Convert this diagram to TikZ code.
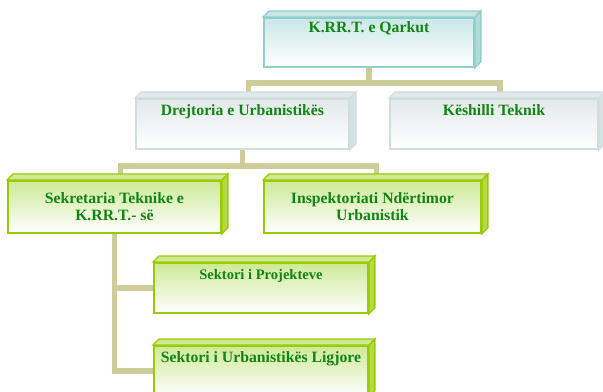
\documentclass[tikz,border=0pt]{standalone}
\usepackage{fontspec}
\setmainfont{Liberation Serif}
\usetikzlibrary{backgrounds}

\definecolor{linktan}{RGB}{206,204,154}
\definecolor{labelgreen}{RGB}{18,132,18}
\definecolor{tealline}{RGB}{146,206,206}
\definecolor{tealfill}{RGB}{202,231,231}
\definecolor{tealside}{RGB}{178,219,219}
\definecolor{grayline}{RGB}{208,222,222}
\definecolor{grayfill}{RGB}{226,233,234}
\definecolor{grayside}{RGB}{214,225,225}
\definecolor{greenline}{RGB}{153,204,0}
\definecolor{greenfill}{RGB}{206,233,152}
\definecolor{greenside}{RGB}{178,216,76}

\begin{document}
\begin{tikzpicture}[x=0.75pt, y=-0.75pt,
    size/.style 2 args={minimum width=#1*0.75pt, minimum height=#2*0.75pt},
    firstline/.style={text height=12.75pt, text depth=#1*0.75pt},
    orgbox/.style={rectangle, inner sep=0pt, anchor=north west, line width=1.4pt,
        font=\fontsize{11.8}{12.75}\selectfont\bfseries, text=labelgreen},
    tealbox/.style={orgbox, draw=tealline, top color=tealfill, bottom color=white},
    graybox/.style={orgbox, draw=grayline, top color=grayfill, bottom color=white},
    greenbox/.style={orgbox, draw=greenline, top color=greenfill, bottom color=white},
    link/.style={linktan, line width=4pt}]
    \useasboundingbox (0,0) rectangle (603,392);
    \clip (0,0) rectangle (603,392);

    % Boxes
    \node[tealbox, size={210}{49}, text height=11.25pt, text depth=25.5pt] (qark) at (263,17) {K.RR.T. e Qarkut};
    \node[graybox, size={213}{50}, firstline=33] (drej) at (135,98) {Drejtoria e Urbanistikës};
    \node[graybox, size={208}{50}, firstline=33] (kesh) at (389,98) {Këshilli Teknik};
    \node[greenbox, size={213}{52}, align=center] (sekr) at (7,180) {Sekretaria Teknike e\\K.RR.T.- së};
    \node[greenbox, size={217}{52}, align=center] (insp) at (263,180) {Inspektoriati Ndërtimor\\Urbanistik};
    \node[greenbox, size={214}{50}, firstline=33, font=\fontsize{10.9}{12}\selectfont\bfseries] (proj) at (153,262) {Sektori i Projekteve};
    \node[greenbox, size={214}{50}, firstline=33] (ligj) at (153,345) {Sektori i Urbanistikës Ligjore};

    % Bevel faces
    \foreach \n/\c in {qark/teal, drej/gray, kesh/gray, sekr/green, insp/green, proj/green, ligj/green} {
        \filldraw[draw=\c line, fill=\c side, line width=1pt] (\n.north east) -- ++(6,-6) -- ([shift={(6,-6)}]\n.south east) -- (\n.south east) -- cycle;
        \filldraw[draw=\c line, fill=\c fill, line width=1pt] (\n.north west) -- ++(6,-6) -- ([shift={(6,-6)}]\n.north east) -- (\n.north east) -- cycle;
    }

    % Connectors
    \begin{scope}[on background layer]
        \draw[link] (qark.south) -- ++(0,15) coordinate (qjoin);
        \draw[link] ([xshift=4.5pt]drej.north) |- (qjoin) -| ([xshift=4.5pt]kesh.north);
        \draw[link] (drej.south) -- ++(0,16) coordinate (djoin);
        \draw[link] ([xshift=4.5pt]sekr.north) |- (djoin) -| ([xshift=3pt]insp.north);
        \draw[link] (sekr.south) |- (proj.west);
        \draw[link] (sekr.south) |- (ligj.west);
    \end{scope}
\end{tikzpicture}
\end{document}
